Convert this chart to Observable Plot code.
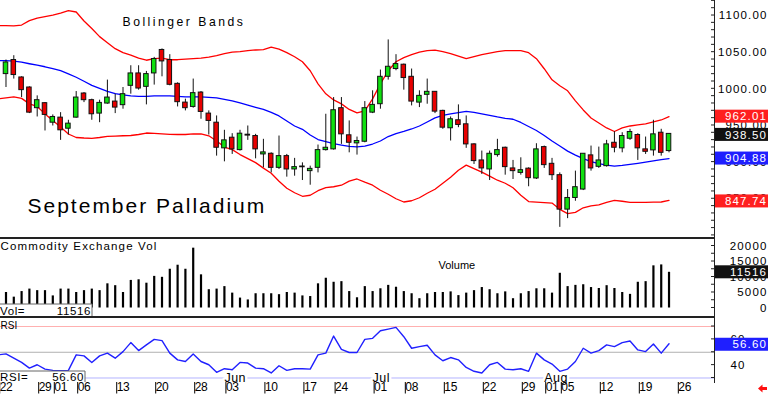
<!DOCTYPE html>
<html><head><meta charset="utf-8">
<script src="https://cdn.jsdelivr.net/npm/d3@7"></script>
<script src="https://cdn.jsdelivr.net/npm/@observablehq/plot@0.6"></script>
<style>
body{margin:0;background:#fff;}
#wrap{position:relative;width:768px;height:394px;overflow:hidden;background:#fff;}
g[font-size="11.5"] text{letter-spacing:1.15px}
g[font-size="12.2"] text{letter-spacing:2.5px}
g[font-size="21"] text{letter-spacing:2px}
g[font-size="12"] text{letter-spacing:-0.3px}
g[font-size="12.5"] text{letter-spacing:0.5px}
.sep{position:absolute;background:#222;}
</style></head><body><div id="wrap"></div>
<script>
// Trading days from Mon 22 Apr (index 0) to Fri 23 Aug (index 86)
const tickIndex  = [0,5,7,10,15,20,25,29,34,39,43,48,52,57,62,67,70,72,77,82,87];
const tickLabels = ["22","29","01","06","13","20","28","03","10","17","24","01","08","15","22","29","01","05","12","19","26"];
const monthIndex  = [29,48,70];
const monthLabels = ["Jun","Jul","Aug"];

const open = [null,
1020.1,1039.3,1015.5,1001.8,973.6,980.4,953.8,960.7,945.6,960.7,
993.6,984.5,966.2,979.9,982.6,977.7,1004.1,1021,1002.7,1021,
1053,1039.3,1006.8,981.2,975.3,994.9,966.2,953.8,918.8,933.3,
916.4,937.4,935.6,910.5,911.4,892.2,908.2,890,894,887.7,
892.2,916.4,917.4,973.6,936.6,925.6,927.8,967.5,979,1016.4,
1027,1032.9,1016.4,981.2,991.8,995.9,969.9,946.2,957.1,951.6,
924.2,902.3,890,909.6,919.6,891.4,885.3,891.1,877.7,920.5,
897.7,882.2,835.2,851.1,862.6,909.2,893.6,894.5,926.4,918.8,
931.9,937,917.4,916,940.1,915.1];
const high = [null,
1039.3,1045.2,1016.4,1002.7,990.4,981.2,964.4,967.5,957.1,996.3,
994.9,985.9,984.5,1011.9,992.7,1001.8,1031.5,1031.5,1023.7,1042.9,
1054.4,1046.6,1008.2,985.9,1013.3,996.3,969.9,963,943.4,938.8,
943.4,949.3,937.9,931.1,912.7,935.6,910.5,905.1,899,894.5,
923.3,965.3,988.1,988.1,956.2,934.2,982.6,997.3,1025.6,1066.7,
1046.6,1033.8,1027,997.3,1013.3,996.3,970.8,961.6,978.1,963,
925.1,915.1,915.1,931.1,920.5,902.3,905.9,892.2,925.1,921.9,
905.1,885.3,862.6,887.7,911.4,921.9,920.5,929.7,941.5,940.1,
944.8,938.8,934.2,957.1,944.8,938.8];
const low = [null,
1001.8,1013.3,988.1,966.2,961.6,942.5,949.3,929.7,937,959.9,
981.2,957.1,953.8,979,966.2,972.2,992.7,998.2,978.1,1005.1,
1016.4,1004.1,975.3,969.9,973.6,958.5,937,908.2,900.4,910.5,
915.1,929.7,904.5,892.2,885.3,890,879.5,880.8,874.9,868.5,
885.3,915.1,916.4,924.2,912.7,909.6,926.4,966.2,972.2,1011.9,
1024.7,998.2,976.7,974.4,979,966.2,944.8,928.8,947,918.8,
896.8,883.2,874.9,906.8,882.2,876.3,882.2,866.4,876.3,891.4,
874.9,811,822.9,846.6,861.2,887.7,891.4,893.2,912.7,912.7,
929.7,902.3,910.5,908.2,908.2,912.7];
const close = [null,
1036,1018.8,998.2,967.5,984.5,964.4,961.6,943.4,952.5,988.1,
984.5,965.3,980.8,988.1,974.4,992.7,1021,1000.4,1020.1,1040.7,
1037.4,1005.5,981.8,973.6,994.1,968.5,956.2,919.6,929.7,917.4,
938.8,936.2,917.4,913.3,892.2,908.2,890,893.2,893,890.8,
916.4,919.6,970.8,937.9,926.4,928.8,973.6,978.1,1016.4,1030.1,
1033.8,1014.7,982.6,990.4,995.9,968.9,947,958.5,950.7,924.2,
901.4,891.4,911.4,916.4,893.2,887.7,889,878.1,917.4,895.9,
882.2,835.2,851.1,865.8,911.4,891.4,902.3,924.2,919.6,935.6,
941.1,918.8,914.1,937.9,912.7,938.5];
const upper = [1086.3,
1086.3,1086,1087,1093,1096.6,1098.6,1100.7,1103.4,1106.8,1104.8,
1092.5,1082.2,1071.2,1063,1054.8,1049.3,1045.9,1041.8,1039,1041.1,
1041.8,1039.7,1039.7,1040.4,1041.1,1041.8,1043.2,1045.2,1047.9,1050,
1050.7,1052,1053,1053.4,1056.8,1054.1,1049.3,1043.8,1037,1024.7,
1006.8,993.2,984.9,979.5,971.9,967.1,969.9,986.3,1006.8,1024.7,
1037,1042.5,1046.6,1050,1052,1052.7,1050.7,1047.9,1044.5,1041.1,
1043.8,1046.6,1048.6,1050.7,1052,1052,1052,1049.3,1041.1,1027.4,
1012.3,1004.1,997.3,983.6,971.2,960.3,953.4,946.6,941.8,946.6,
949.3,950.7,952.1,954.8,957.5,962.01];
const middle = [1038.4,
1038.4,1037.7,1036.3,1034.2,1032.2,1030.1,1027.4,1024.7,1020.5,1015.8,
1010.3,1004.8,1000.7,996.6,993.4,991.8,990.4,989.7,989.7,990.4,
990.4,990.4,989.7,989,989,989,988.4,987.7,985.6,983.6,
980.8,977.7,974.7,971.9,967.8,963,956.2,949.3,944.8,937,
930.8,928.1,925.3,923.3,921.5,920.8,921.9,924.7,928.8,934.9,
939,941.8,945.2,949.3,954.8,960.3,963.7,965.8,967.5,969.2,
967.8,965.8,963.7,961.6,959.8,958.5,954.1,948.6,943.2,936.3,
928.8,921.9,915,909.6,904.8,900.7,897.9,895.9,894.5,895.5,
896.8,898.3,900,901.7,903.3,904.88];
const lower = [986.3,
987.7,989,987,979.5,976,965.8,956.8,947.9,938.4,933.6,
932.9,932.5,933.6,935.2,935.6,936,936.3,937.7,939.7,939.3,
938.6,937.9,937.7,937.7,938.4,938.6,935.9,928.8,920.5,917.1,
910.3,904.8,899.3,891.8,884.9,874,864.4,858.2,853.4,854.8,
861,865.1,866.4,868.5,874,877,872.6,868.5,861.6,856.2,
850,845.6,847.3,851.4,857.5,863,871.2,879.5,889,895.9,
891.1,886.3,880.8,875.3,871.2,865.1,854.8,846.2,845.5,844.8,
844.2,835.6,829.7,831.5,837.7,840.4,841.8,845.2,847.9,846.6,
845.2,845.2,845.2,845.5,845.6,847.74];
const volume = [null,
5000,3500,5300,6100,5600,5600,3900,6100,6100,5000,
5600,6100,5600,7800,7200,5000,8900,9100,8000,10200,
9900,12500,13800,12500,19300,10700,5900,6100,6900,4800,
3200,2600,4600,4600,4600,4300,5000,4800,3900,3700,
7800,9600,8300,8500,5300,3300,6900,5300,6200,7300,
6700,5300,4600,3000,4600,5000,5000,5200,4000,4800,
5600,6600,5900,4600,5200,3000,4600,5300,6200,6200,
4800,11200,6900,7300,7500,6600,6300,7200,6300,5000,
4400,8300,8500,13600,13900,11516];
const rsi = [48,
48.7,45.4,42.1,37.7,40.3,36.9,35.9,35.7,35.9,48,
47.2,42.1,47.2,49.3,45.4,50.5,57.5,51.3,55.7,60,
59,49.3,44.1,42.8,48.7,42.8,40.3,34.4,37.2,36.4,
42.1,41.6,37.7,37.2,33.9,39.5,35.9,37.2,37.2,36.9,
48,49.3,62.6,52.3,49.8,49.8,60,60.8,66.7,68,
69.3,62.1,53.1,54.4,55.4,48,43.4,45.9,44.1,38.2,
35.2,33.9,40.3,42.1,36.9,36.4,37.2,35.2,49.3,44.1,
40.8,35.2,36.9,42.8,53.1,49.3,51.3,55.7,54.4,57.5,
58.7,51.8,50.5,56.4,49.3,56.6];

const FONT = "'Liberation Sans', Arial, Helvetica, sans-serif";
const GREEN = "#10e010", RED = "#e80000";
const idx = d3.range(open.length);
const candles = idx.filter(i => open[i] != null).map(i => ({i, o: open[i], h: high[i], l: low[i], c: close[i]}));
const bands = idx.map(i => ({i, u: upper[i], m: middle[i], lo: lower[i]}));
const vols = idx.filter(i => volume[i] != null).map(i => ({i, v: volume[i]}));
const rsis = idx.map(i => ({i, r: rsi[i]}));
const months = monthIndex.map((i, k) => ({i, label: monthLabels[k]}));
const last = open.length - 1;
const xDomain = [0.295, 91.83];
const W = 768, MR = 54, AX = W - MR;
const wrap = document.getElementById("wrap");

function baseStyle(top) {
  return {position: "absolute", left: "0px", top: top + "px", fontFamily: FONT, background: "transparent", overflow: "visible"};
}
function boxLabel(svg, y, text, bg) {
  const g = d3.select(svg).append("g");
  g.append("rect").attr("x", AX).attr("y", y - 6.5).attr("width", MR).attr("height", 13).attr("fill", bg);
  g.append("text").attr("x", 767).attr("y", y).attr("dy", "0.36em").attr("text-anchor", "end")
    .attr("fill", "#fff").style("font", "11.5px " + FONT).style("letter-spacing", "1.15px").text(text);
}
function minorTicks(svg, yScale, values) {
  const g = d3.select(svg).append("g").attr("stroke", "#222");
  values.forEach(v => {
    const y = yScale.apply(v);
    g.append("line").attr("x1", AX - 3).attr("x2", AX).attr("y1", y).attr("y2", y);
  });
}
function infoBox(svg, y0, h, w, name, value) {
  const g = d3.select(svg).append("g");
  g.append("rect").attr("x", -1).attr("y", y0).attr("width", w + 1).attr("height", h).attr("fill", "#fff");
  g.append("path").attr("d", `M0,${y0}H${w}V${y0 + h}`).attr("fill", "none").attr("stroke", "#666").attr("stroke-width", 1);
  const ty = y0 + h / 2;
  g.append("text").attr("x", 0).attr("y", ty).attr("dy", "0.36em").attr("text-anchor", "start")
    .style("font", "11.5px " + FONT).style("letter-spacing", "0.6px").text(name);
  g.append("text").attr("x", w - 1).attr("y", ty).attr("dy", "0.36em").attr("text-anchor", "end")
    .style("font", "11.5px " + FONT).style("letter-spacing", "0.6px").text(value);
}

// ---------- Price panel ----------
const p1 = Plot.plot({
  width: W, height: 238, marginLeft: 0, marginRight: MR, marginTop: 0, marginBottom: 0,
  style: baseStyle(0),
  x: {domain: xDomain, axis: null, label: null},
  y: {domain: [795.8, 1120.5], label: null},
  marks: [
    Plot.axisY({anchor: "right", label: null, ticks: [850, 900, 950, 1000, 1050, 1100], tickSize: 0, tickPadding: 53, textAnchor: "end", tickFormat: d => d.toFixed(2), fontSize: 11.5}),
    Plot.line(bands, {x: "i", y: "u", stroke: "#ff0000", strokeWidth: 1.3, clip: true}),
    Plot.line(bands, {x: "i", y: "lo", stroke: "#ff0000", strokeWidth: 1.3, clip: true}),
    Plot.line(bands, {x: "i", y: "m", stroke: "#0000ff", strokeWidth: 1.3, clip: true}),
    Plot.ruleX(candles, {x: "i", y1: "l", y2: "h", stroke: "#111", strokeWidth: 1, clip: true}),
    Plot.rect(candles.filter(d => d.c >= d.o), {x1: d => d.i - 0.29, x2: d => d.i + 0.29, y1: "o", y2: "c", fill: GREEN, stroke: "#111", strokeWidth: 1, clip: true}),
    Plot.rect(candles.filter(d => d.c < d.o), {x1: d => d.i - 0.29, x2: d => d.i + 0.29, y1: "o", y2: "c", fill: RED, stroke: "#111", strokeWidth: 1, clip: true}),
    Plot.text(["Bollinger Bands"], {frameAnchor: "top-left", dx: 122, dy: 22, textAnchor: "start", lineAnchor: "middle", fontSize: 12.2, fill: "#000"}),
    Plot.text(["September Palladium"], {frameAnchor: "top-left", dx: 27, dy: 206, textAnchor: "start", lineAnchor: "middle", fontSize: 21, fill: "#000"})
  ]
});
wrap.appendChild(p1);
{
  const ys = p1.scale("y");
  minorTicks(p1, ys, d3.range(800, 1121, 10));
  boxLabel(p1, ys.apply(upper[last]), upper[last].toFixed(2), "#ff1f1f");
  boxLabel(p1, ys.apply(close[last]) + 1, close[last].toFixed(2), "#111");
  boxLabel(p1, ys.apply(middle[last]), middle[last].toFixed(2), "#1f1fff");
  boxLabel(p1, ys.apply(lower[last]) + 1, lower[last].toFixed(2), "#ff1f1f");
}

// ---------- Volume panel ----------
const p2 = Plot.plot({
  width: W, height: 79, marginLeft: 0, marginRight: MR, marginTop: 0, marginBottom: 0,
  style: baseStyle(238),
  x: {domain: xDomain, axis: null, label: null},
  y: {domain: [-3065, 22420], label: null},
  marks: [
    Plot.axisY({anchor: "right", label: null, ticks: [0, 5000, 10000, 15000, 20000], tickSize: 0, tickPadding: 53, textAnchor: "end", tickFormat: d => String(d), fontSize: 11.5}),
    Plot.ruleX(vols, {x: "i", y1: 0, y2: "v", stroke: "#000", strokeWidth: 2.2, clip: true}),
    Plot.text(["Commodity Exchange Vol"], {frameAnchor: "top-left", dx: 0, dy: 7.6, textAnchor: "start", lineAnchor: "middle", fontSize: 11.5, fill: "#000"}),
    Plot.text(["Volume"], {frameAnchor: "top-left", dx: 438, dy: 26.6, textAnchor: "start", lineAnchor: "middle", fontSize: 11, fill: "#000"})
  ]
});
wrap.appendChild(p2);
{
  const ys = p2.scale("y");
  minorTicks(p2, ys, d3.range(0, 22001, 2500));
  boxLabel(p2, ys.apply(volume[last]), String(volume[last]), "#111");
  infoBox(p2, 66, 13, 92, "Vol=", String(volume[last]));
}

// ---------- RSI panel ----------
const p3 = Plot.plot({
  width: W, height: 77, marginLeft: 0, marginRight: MR, marginTop: 0, marginBottom: 12,
  style: baseStyle(317),
  x: {domain: xDomain, label: null},
  y: {domain: [26.5, 77], label: null},
  marks: [
    Plot.ruleY([70], {stroke: "#ffb0b0", strokeWidth: 1}),
    Plot.ruleY([50], {stroke: "#b0b0b0", strokeWidth: 1}),
    Plot.ruleY([30], {stroke: "#b4b4ff", strokeWidth: 1}),
    Plot.line(rsis, {x: "i", y: "r", stroke: "#2020ff", strokeWidth: 1.4, clip: true}),
    Plot.text(months, {x: "i", y: 30, text: "label", textAnchor: "start", lineAnchor: "middle", fontSize: 12.5, fill: "#000", stroke: "#fff", strokeWidth: 5}),
    Plot.text(["RSI"], {frameAnchor: "top-left", dx: 0, dy: 8.5, textAnchor: "start", lineAnchor: "middle", fontSize: 10, fill: "#000"}),
    Plot.axisY({anchor: "right", label: null, ticks: [40, 60], tickSize: 0, tickPadding: 16, textAnchor: "start", fontSize: 11.5}),
    Plot.axisX({anchor: "bottom", label: null, ticks: tickIndex, tickFormat: d => tickLabels[tickIndex.indexOf(d)], tickSize: 11.5, tickPadding: -11.5, textAnchor: "start", dx: 1.5, fontSize: 12})
  ]
});
wrap.appendChild(p3);
{
  const ys = p3.scale("y");
  minorTicks(p3, ys, d3.range(30, 76, 10));
  boxLabel(p3, ys.apply(rsi[last]) + 1, rsi[last].toFixed(2), "#1f1fff");
  infoBox(p3, 54, 11, 85, "RSI=", rsi[last].toFixed(2));
  d3.select(p3).append("path").attr("d", "M758,71.5l4.5,-4v2.6h4.5v2.8h-4.5v2.6z").attr("fill", "#ff1010");
}

// panel separators and right axis line
[[0, 237.3, AX, 1.6], [0, 316.3, AX, 1.6], [AX - 0.5, 0, 1.4, 382.5]].forEach(([l, t, w, h]) => {
  const d = document.createElement("div");
  d.className = "sep";
  Object.assign(d.style, {left: l + "px", top: t + "px", width: w + "px", height: h + "px"});
  wrap.appendChild(d);
});
</script></body></html>
